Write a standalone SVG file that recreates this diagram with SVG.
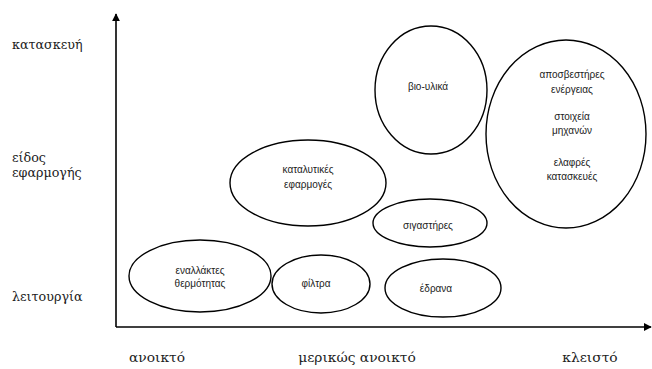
<svg xmlns="http://www.w3.org/2000/svg" width="652" height="369" viewBox="0 0 652 369">
  <defs>
    <marker id="arrow" viewBox="0 0 10 10" refX="9" refY="5" markerWidth="8" markerHeight="8" markerUnits="userSpaceOnUse" orient="auto">
      <path d="M0,0 L10,5 L0,10 z" fill="#000"/>
    </marker>
    <style>
      .axis { stroke: #000; stroke-width: 1.6; fill: none; }
      .bubble { fill: #fff; stroke: #000; stroke-width: 1.4; }
      .lbl { font-family: "Liberation Sans", Arial, sans-serif; font-size: 10px; fill: #222; text-anchor: middle; }
      .ylab { font-family: "DejaVu Serif", serif; font-size: 12.7px; fill: #222; }
      .xlab { font-family: "DejaVu Serif", serif; font-size: 13.8px; fill: #222; text-anchor: middle; }
    </style>
  </defs>
  <rect width="652" height="369" fill="#fff"/>

  <!-- axes -->
  <g id="axes">
    <line class="axis" x1="116" y1="327" x2="116" y2="14" marker-end="url(#arrow)"/>
    <line class="axis" x1="116" y1="327" x2="651" y2="327" marker-end="url(#arrow)"/>
  </g>

  <!-- vertical axis labels -->
  <g id="y-labels">
    <text class="ylab" x="12" y="49">κατασκευή</text>
    <text class="ylab" x="12" y="162">είδος</text>
    <text class="ylab" x="12" y="177">εφαρμογής</text>
    <text class="ylab" x="12" y="301">λειτουργία</text>
  </g>

  <!-- horizontal axis labels -->
  <g id="x-labels">
    <text class="xlab" x="157" y="362">ανοικτό</text>
    <text class="xlab" x="357" y="362">μερικώς ανοικτό</text>
    <text class="xlab" x="590" y="362">κλειστό</text>
  </g>

  <g id="heat-exchangers">
    <ellipse class="bubble" cx="200" cy="276" rx="71" ry="36"/>
    <text class="lbl" x="200" y="274">εναλλάκτες</text>
    <text class="lbl" x="200" y="287">θερμότητας</text>
  </g>

  <g id="filters">
    <ellipse class="bubble" cx="321" cy="284" rx="49" ry="29"/>
    <text class="lbl" x="316" y="287">φίλτρα</text>
  </g>

  <g id="bearings">
    <ellipse class="bubble" cx="443" cy="288" rx="58" ry="29"/>
    <text class="lbl" x="436" y="292">έδρανα</text>
  </g>

  <g id="silencers">
    <ellipse class="bubble" cx="430" cy="223" rx="57" ry="24"/>
    <text class="lbl" x="428" y="229">σιγαστήρες</text>
  </g>

  <g id="catalytic">
    <ellipse class="bubble" cx="308" cy="183" rx="78" ry="43"/>
    <text class="lbl" x="308" y="173">καταλυτικές</text>
    <text class="lbl" x="308" y="188">εφαρμογές</text>
  </g>

  <g id="biomaterials">
    <ellipse class="bubble" cx="431" cy="90" rx="56" ry="64"/>
    <text class="lbl" x="428" y="90">βιο-υλικά</text>
  </g>

  <g id="structures">
    <ellipse class="bubble" cx="566" cy="134" rx="80" ry="94"/>
    <text class="lbl" x="572" y="78">αποσβεστήρες</text>
    <text class="lbl" x="572" y="93">ενέργειας</text>
    <text class="lbl" x="572" y="120">στοιχεία</text>
    <text class="lbl" x="572" y="134">μηχανών</text>
    <text class="lbl" x="572" y="166">ελαφρές</text>
    <text class="lbl" x="572" y="180">κατασκευές</text>
  </g>
</svg>
